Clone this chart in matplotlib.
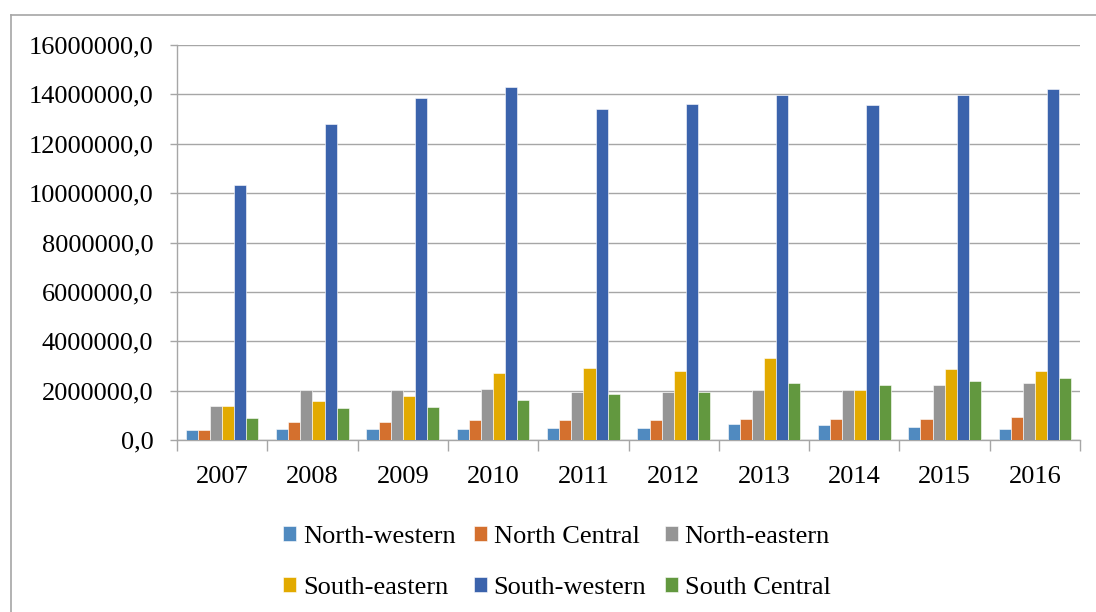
import numpy as np
import matplotlib.pyplot as plt
from matplotlib.ticker import FuncFormatter, FixedLocator
from matplotlib.lines import Line2D

years = ['2007', '2008', '2009', '2010', '2011', '2012', '2013', '2014', '2015', '2016']
regions = ['North-western', 'North Central', 'North-eastern',
           'South-eastern', 'South-western', 'South Central']

north_western = [390000, 445000, 445000, 445000, 500000, 500000, 660000, 595000, 540000, 435000]
north_central = [390000, 715000, 715000, 795000, 795000, 795000, 835000, 835000, 835000, 945000]
north_eastern = [1390000, 2010000, 2010000, 2060000, 1960000, 1960000, 2010000, 2010000, 2240000, 2290000]
south_eastern = [1390000, 1565000, 1780000, 2700000, 2910000, 2810000, 3310000, 2010000, 2860000, 2810000]
south_western = [10320000, 12790000, 13850000, 14290000, 13400000, 13600000, 13970000, 13560000, 13970000, 14210000]
south_central = [880000, 1280000, 1340000, 1620000, 1850000, 1960000, 2290000, 2240000, 2400000, 2520000]

series = [north_western, north_central, north_eastern, south_eastern, south_western, south_central]
colors = ['#508ac0', '#d4702e', '#959595', '#e2aa00', '#3b63ac', '#62983f']

plt.rcParams['font.family'] = ['Liberation Serif', 'DejaVu Serif']
fs = 19

fig = plt.figure(figsize=(10.96, 6.12), dpi=100)
ax = fig.add_axes([0.1615, 0.281, 0.824, 0.6455])

x = np.arange(len(years))
w = 0.134
bars = []
for i, (vals, c) in enumerate(zip(series, colors)):
    b = ax.bar(x + (i - 2.5) * w, vals, w, color=c, edgecolor='white', linewidth=0.4,
               label=regions[i], zorder=3)
    bars.append(b)

ax.set_xlim(-0.5, len(years) - 0.5)
ax.set_ylim(0, 16000000)
ax.set_yticks(np.arange(0, 16000001, 2000000))
ax.yaxis.set_major_formatter(FuncFormatter(lambda v, p: f'{v:.1f}'.replace('.', ',')))
ax.grid(axis='y', color='#a6a6a6', linewidth=1.0, zorder=0)

ax.set_xticks(x)
ax.set_xticklabels(years)
ax.xaxis.set_minor_locator(FixedLocator(np.arange(-0.5, len(years), 1.0)))
ax.tick_params(axis='x', which='major', length=0, pad=19, labelsize=fs)
ax.tick_params(axis='x', which='minor', length=8, width=1, color='#a6a6a6', direction='out')
ax.tick_params(axis='y', length=5, width=1, color='#a6a6a6', pad=12, labelsize=fs)

for s in ['top', 'right']:
    ax.spines[s].set_visible(False)
for s in ['left', 'bottom']:
    ax.spines[s].set_color('#a6a6a6')
    ax.spines[s].set_linewidth(1)

# legend fills column by column, so interleave to get row order
order = [0, 3, 1, 4, 2, 5]
fig.legend([bars[i] for i in order], [regions[i] for i in order],
           loc='center', bbox_to_anchor=(0.508, 0.0805), ncol=3, frameon=False,
           fontsize=fs, handlelength=0.5, handleheight=0.5, handletextpad=0.25,
           columnspacing=0.7, labelspacing=1.1)

# outer frame lines
fig.add_artist(Line2D([11 / 1096, 11 / 1096], [0, 1 - 15 / 612], color='#a6a6a6', lw=1.2))
fig.add_artist(Line2D([11 / 1096, 1], [1 - 15 / 612, 1 - 15 / 612], color='#a6a6a6', lw=1.2))

fig.savefig('out.png', dpi=100)
